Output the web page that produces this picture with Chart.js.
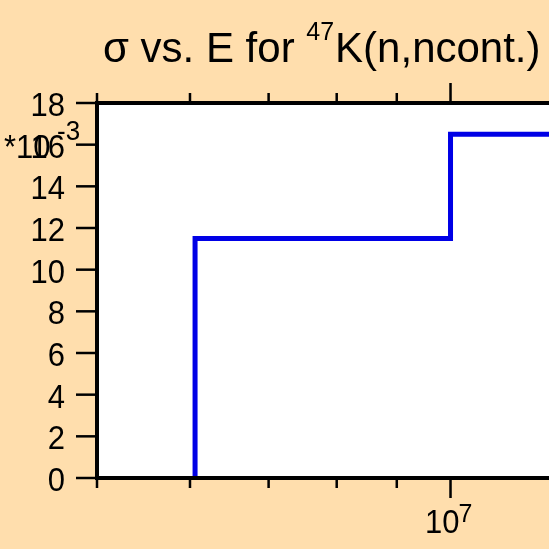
<!DOCTYPE html>
<html>
<head>
<meta charset="utf-8">
<script src="https://cdn.jsdelivr.net/npm/chart.js@4"></script>
<style>
  html, body { margin: 0; padding: 0; background: #FFDEAD; }
  canvas { display: block; }
</style>
</head>
<body>
<canvas id="xsChart" width="549" height="549"></canvas>
<script>
// Daten: Energie (eV) und Wirkungsquerschnitt (in Einheiten von 1e-3 b)
const energy = [6.06e6, 6.06e6, 1.0e7, 1.5e7];
const sigma = [0, 11.5, 16.5, 16.5];

// Achsenbeschriftungen
const yTicks = [0, 2, 4, 6, 8, 10, 12, 14, 16, 18];
const xMinorTicks = [5e6, 6e6, 7e6, 8e6, 9e6];
const xMajorTicks = [1e7];
const xMajorExp = ['7'];
const yExponent = '-3';
const titleMain = ['\u03c3 vs. E for ', 'K(n,ncont.)'];
const titleSup = '47';

(function() {
    'use strict';

    const FONT = '"Liberation Sans", Arial, sans-serif';

    // Text leicht vertikal gestreckt wie im Original
    function tallText(ctx, text, x, y, sy) {
        ctx.save();
        ctx.translate(x, y);
        ctx.scale(1, sy);
        ctx.fillText(text, 0, 0);
        ctx.restore();
    }

    // Hintergrund, Rahmen, Ticks und Texte zeichnen
    const framePlugin = {
        id: 'frame',
        beforeDraw(chart) {
            const ctx = chart.ctx;
            const a = chart.chartArea;
            ctx.save();
            ctx.fillStyle = '#FFDEAD';
            ctx.fillRect(0, 0, chart.width, chart.height);
            ctx.fillStyle = '#ffffff';
            ctx.fillRect(a.left, a.top, a.right - a.left, a.bottom - a.top);
            ctx.restore();
        },
        afterDraw(chart) {
            const ctx = chart.ctx;
            const a = chart.chartArea;
            const xs = chart.scales.x;
            const ys = chart.scales.y;
            ctx.save();
            ctx.strokeStyle = '#000';
            ctx.fillStyle = '#000';

            // Rahmen (rechte Seite liegt ausserhalb des Bildes)
            ctx.lineWidth = 4;
            ctx.beginPath();
            ctx.moveTo(chart.width + 5, a.top);
            ctx.lineTo(a.left, a.top);
            ctx.lineTo(a.left, a.bottom);
            ctx.lineTo(chart.width + 5, a.bottom);
            ctx.stroke();

            // Y-Ticks
            ctx.lineWidth = 2.5;
            ctx.font = '31px ' + FONT;
            ctx.textAlign = 'right';
            ctx.textBaseline = 'alphabetic';
            yTicks.forEach(function(v) {
                const py = ys.getPixelForValue(v);
                ctx.beginPath();
                ctx.moveTo(a.left - 21, py);
                ctx.lineTo(a.left, py);
                ctx.stroke();
                tallText(ctx, String(v), 65, py + 13, 1.08);
            });

            // Exponent der Y-Achse
            const py16 = ys.getPixelForValue(16);
            ctx.textAlign = 'left';
            tallText(ctx, '*10', 4, py16 + 13, 1.08);
            ctx.font = '26px ' + FONT;
            tallText(ctx, yExponent, 57, 140, 1.05);

            // X-Ticks unten und oben
            ctx.lineWidth = 2.5;
            xMinorTicks.forEach(function(v) {
                const px = xs.getPixelForValue(v);
                ctx.beginPath();
                ctx.moveTo(px, a.bottom);
                ctx.lineTo(px, a.bottom + 10);
                ctx.moveTo(px, a.top);
                ctx.lineTo(px, a.top - 10);
                ctx.stroke();
            });
            xMajorTicks.forEach(function(v, i) {
                const px = xs.getPixelForValue(v);
                ctx.beginPath();
                ctx.moveTo(px, a.bottom);
                ctx.lineTo(px, a.bottom + 20);
                ctx.moveTo(px, a.top);
                ctx.lineTo(px, a.top - 20);
                ctx.stroke();
                ctx.font = '31px ' + FONT;
                ctx.textAlign = 'right';
                tallText(ctx, '10', px + 9, 533, 1.08);
                ctx.font = '25px ' + FONT;
                ctx.textAlign = 'left';
                tallText(ctx, xMajorExp[i], px + 8, 522, 1.05);
            });

            // Titel mit hochgestellter Massenzahl
            ctx.textAlign = 'left';
            let tx = 103;
            ctx.font = '42px ' + FONT;
            ctx.fillText(titleMain[0], tx, 62);
            tx += ctx.measureText(titleMain[0]).width;
            ctx.font = '25px ' + FONT;
            ctx.fillText(titleSup, tx, 40);
            tx += ctx.measureText(titleSup).width + 1;
            ctx.font = '42px ' + FONT;
            ctx.fillText(titleMain[1], tx, 62);

            ctx.restore();
        }
    };

    const points = energy.map(function(e, i) {
        return { x: e, y: sigma[i] };
    });

    const config = {
        type: 'line',
        data: {
            datasets: [{
                data: points,
                borderColor: 'rgb(0, 0, 230)',
                borderWidth: 5,
                stepped: 'before',
                pointRadius: 0,
                fill: false
            }]
        },
        options: {
            responsive: false,
            animation: false,
            layout: {
                padding: { left: 97, top: 103, right: 0, bottom: 71 }
            },
            plugins: {
                legend: { display: false },
                tooltip: { enabled: false },
                title: { display: false }
            },
            scales: {
                x: {
                    type: 'logarithmic',
                    min: 5e6,
                    max: 1.213e7,
                    display: false
                },
                y: {
                    type: 'linear',
                    min: 0,
                    max: 18,
                    display: false
                }
            }
        },
        plugins: [framePlugin]
    };

    new Chart(document.getElementById('xsChart'), config);
})();
</script>
</body>
</html>
